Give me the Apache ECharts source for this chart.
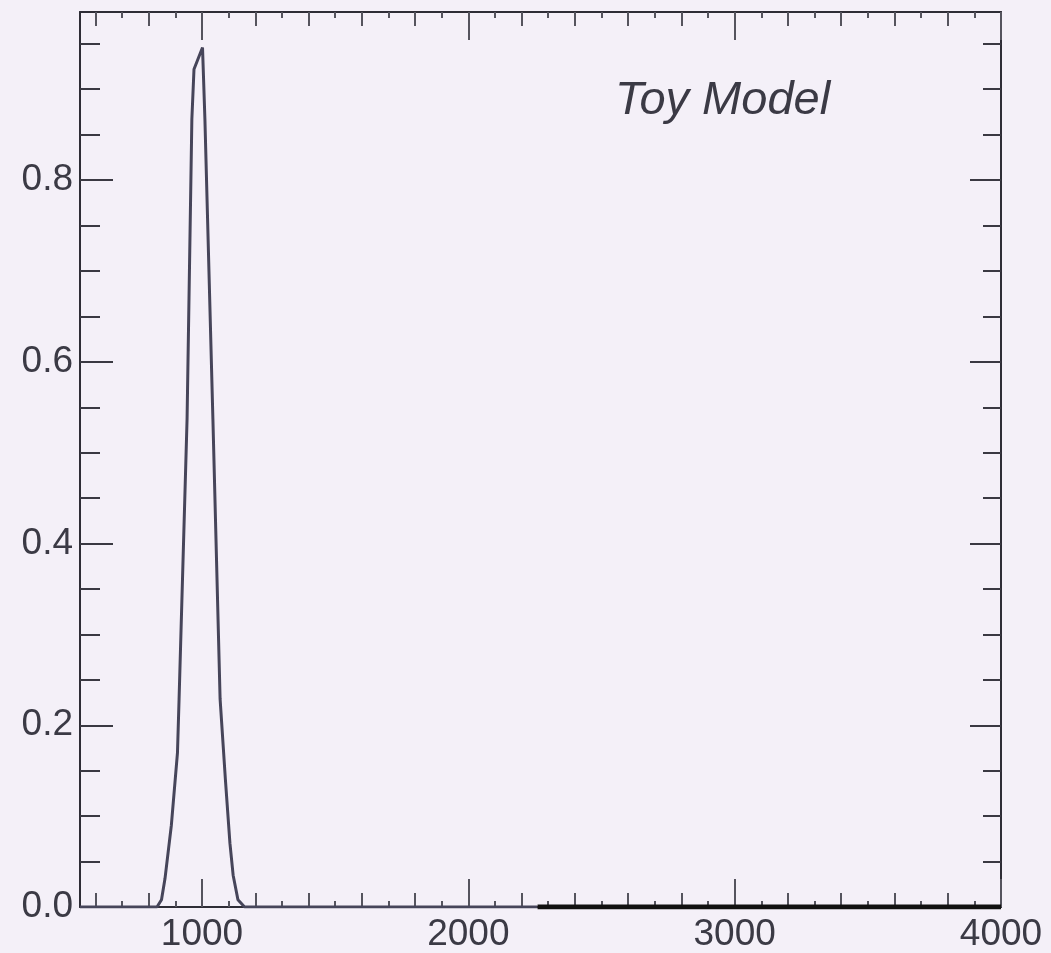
<!DOCTYPE html>
<html>
<head>
<meta charset="utf-8">
<script src="https://cdn.jsdelivr.net/npm/echarts@6/dist/echarts.min.js"></script>
<style>
html,body{margin:0;padding:0;background:#f4f0f8;}
#chart{width:1051px;height:953px;}
</style>
</head>
<body>
<div id="chart"></div>
<script>
// ---- data ----
const curveX = [542, 831, 848, 861, 885, 908, 914, 944, 962, 970, 1002, 1011, 1041, 1068, 1088, 1105, 1117, 1135, 1160, 2260];
const curveY = [0, 0, 0.008, 0.031, 0.09, 0.17, 0.229, 0.537, 0.867, 0.922, 0.946, 0.867, 0.537, 0.229, 0.14, 0.07, 0.035, 0.008, 0, 0];
const tailX = [2260, 4000];
const tailY = [0, 0];

const xMajorTicks = [1000, 2000, 3000, 4000];
const xMidTicks = [600, 800, 1200, 1400, 1600, 1800, 2200, 2400, 2600, 2800, 3200, 3400, 3600, 3800];
const xMinorTicks = [700, 900, 1100, 1300, 1500, 1700, 1900, 2100, 2300, 2500, 2700, 2900, 3100, 3300, 3500, 3700, 3900];
const yMajorTicks = [0, 0.2, 0.4, 0.6, 0.8];
const yMinorTicks = [0.05, 0.1, 0.15, 0.25, 0.3, 0.35, 0.45, 0.5, 0.55, 0.65, 0.7, 0.75, 0.85, 0.9, 0.95];
const titleText = 'Toy Model';

const X_MIN = 542, X_MAX = 4000, Y_MIN = 0, Y_MAX = 0.985;
const FONT = '"Liberation Sans", Arial, sans-serif';
const TEXT_COLOR = '#3b3a45';
const TICK_COLOR = '#55545e';

function xAxisDef(position, ticks, len, showLabel, showLine) {
  return {
    type: 'value', position: position, min: X_MIN, max: X_MAX,
    axisLine: { show: showLine, onZero: false, lineStyle: { color: '#2e2d36', width: 2 } },
    axisTick: { show: true, inside: true, length: len, customValues: ticks, lineStyle: { color: TICK_COLOR, width: 2 } },
    axisLabel: { show: showLabel, customValues: ticks, margin: 9, color: TEXT_COLOR, fontSize: 37, fontFamily: FONT,
      formatter: v => String(Math.round(v)) },
    splitLine: { show: false }
  };
}
function yAxisDef(position, ticks, len, showLabel, showLine) {
  return {
    type: 'value', position: position, min: Y_MIN, max: Y_MAX,
    axisLine: { show: showLine, onZero: false, lineStyle: { color: '#2e2d36', width: 2 } },
    axisTick: { show: true, inside: true, length: len, customValues: ticks, lineStyle: { color: '#3a3942', width: 2 } },
    axisLabel: { show: showLabel, customValues: ticks, margin: 7, color: TEXT_COLOR, fontSize: 37, fontFamily: FONT,
      formatter: v => v.toFixed(1) },
    splitLine: { show: false }
  };
}

const chart = echarts.init(document.getElementById('chart'), null, { renderer: 'canvas' });
chart.setOption({
  backgroundColor: '#f4f0f8',
  animation: false,
  title: {
    text: titleText, left: 610, top: 72,
    textStyle: { fontStyle: 'italic', fontWeight: 'normal', fontSize: 47, color: TEXT_COLOR, fontFamily: FONT }
  },
  grid: { left: 80, right: 50, top: 12, bottom: 45, containLabel: false },
  xAxis: [
    xAxisDef('bottom', xMajorTicks, 28, true, true),
    xAxisDef('bottom', xMidTicks, 14, false, false),
    xAxisDef('bottom', xMinorTicks, 6, false, false),
    xAxisDef('top', xMajorTicks, 28, false, true),
    xAxisDef('top', xMidTicks, 14, false, false),
    xAxisDef('top', xMinorTicks, 6, false, false)
  ],
  yAxis: [
    yAxisDef('left', yMajorTicks, 33, true, true),
    yAxisDef('left', yMinorTicks, 20, false, false),
    yAxisDef('right', yMajorTicks, 31, false, true),
    yAxisDef('right', yMinorTicks, 18, false, false)
  ],
  series: [
    {
      type: 'line', xAxisIndex: 0, yAxisIndex: 0, showSymbol: false,
      data: curveX.map((x, i) => [x, curveY[i]]),
      lineStyle: { color: '#46455a', width: 3 }
    },
    {
      type: 'line', xAxisIndex: 0, yAxisIndex: 0, showSymbol: false,
      data: tailX.map((x, i) => [x, tailY[i]]),
      lineStyle: { color: '#111', width: 5 }
    }
  ]
});
</script>
</body>
</html>
